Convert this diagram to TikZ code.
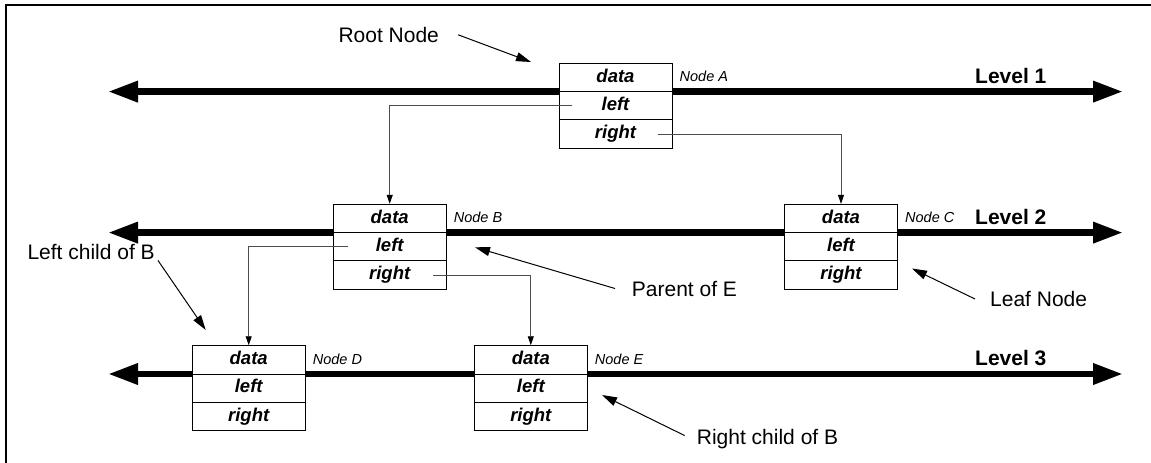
\documentclass[tikz,border=0pt]{standalone}
\usepackage{fontspec}
\setmainfont{Liberation Sans}
\usetikzlibrary{arrows.meta,calc}
\newcommand\llbox[3]{%
  \node[cell] (#1d) at (#2,#3+14.15) {data};
  \node[cell] (#1l) at (#2,#3+42.45) {left};
  \node[cell] (#1r) at (#2,#3+70.75) {right};}
\begin{document}
\begin{tikzpicture}[x=1pt,y=-1pt,
  cell/.style={draw=black, line width=0.9pt, fill=white, minimum width=113pt,
    minimum height=28.3pt, inner sep=0pt,
    font=\fontsize{18.5}{20}\selectfont\bfseries\itshape,
    text height=13.3pt, text depth=3.7pt},
  lvl/.style={line width=6.5pt,
    {Triangle[length=30pt,width=20pt]}-{Triangle[length=30pt,width=20pt]}},
  conn/.style={draw=black!70, line width=0.9pt,
    -{Triangle[length=9pt,width=6pt,color=black]}},
  ann/.style={draw=black, line width=1pt, -{Triangle[length=15pt,width=9pt]}},
  anntext/.style={font=\fontsize{21}{25}\selectfont, inner sep=0pt, anchor=base west},
  lvltext/.style={font=\fontsize{21}{25}\selectfont\bfseries, inner sep=0pt, anchor=base west},
  nlab/.style={font=\fontsize{14.5}{16}\selectfont\itshape, inner sep=0pt, anchor=base west}]
\useasboundingbox (0,0) rectangle (1151,463);
\fill[white] (0,0) rectangle (1151,463);
\draw[line width=2.2pt] (6.2,5) rectangle (1200,520);

% level lines
\coordinate (L1a) at (108,91.6);  \coordinate (L1b) at (1123,91.6);
\coordinate (L2a) at (108,232.6); \coordinate (L2b) at (1123,232.6);
\coordinate (L3a) at (108,374);   \coordinate (L3b) at (1123,374);
\draw[lvl] (L1a) -- (L1b);
\draw[lvl] (L2a) -- (L2b);
\draw[lvl] (L3a) -- (L3b);
\node[lvltext] (lv1) at (975,83.3) {Level 1};
\node[lvltext] (lv2) at (975,224.3) {Level 2};
\node[lvltext] (lv3) at (975,365.6) {Level 3};

% boxes
\llbox{A}{615.5}{63.3}
\llbox{B}{389.7}{204.3}
\llbox{C}{841}{204.3}
\llbox{D}{248.7}{345.7}
\llbox{E}{530.8}{345.7}

\node[nlab] (Alab) at ($(Ad.base east)+(7,-0.6)$) {Node A};
\node[nlab] (Blab) at ($(Bd.base east)+(7,-0.6)$) {Node B};
\node[nlab] (Clab) at ($(Cd.base east)+(7,-0.6)$) {Node C};
\node[nlab] (Dlab) at ($(Dd.base east)+(7,-0.6)$) {Node D};
\node[nlab] (Elab) at ($(Ed.base east)+(7,-0.6)$) {Node E};

% child pointers
\draw[conn] ($(Al.west)+(13.7,0)$) -| (Bd.north);
\draw[conn] ($(Ar.east)+(-14,0)$) -| (Cd.north);
\draw[conn] ($(Bl.west)+(15,0)$) -| (Dd.north);
\draw[conn] ($(Br.east)+(-13.7,0)$) -| (Ed.north);

% annotations
\node[anntext] (root) at (338.3,42.3) {Root Node};
\coordinate (rootT) at (531,62);
\draw[ann] ($(root.east)+(19,0)$) -- (rootT);

\node[anntext] (par) at (631.7,296) {Parent of E};
\coordinate (parT) at (475,247.3);
\draw[ann] ($(par.west)+(-16.7,0)$) -- (parT);

\node[anntext] (leaf) at (990,306.5) {Leaf Node};
\coordinate (leafT) at (912,268.5);
\draw[ann] ($(leaf.west)+(-15,0)$) -- (leafT);

\node[anntext] (rc) at (696.7,444) {Right child of B};
\coordinate (rcT) at (602,395);
\draw[ann] ($(rc.west)+(-12,-3)$) -- (rcT);

\node[anntext] (lc) at (27.3,259) {Left child of B};
\coordinate (lcT) at (205.7,330);
\draw[ann] ($(lc.south east)+(3,1)$) -- (lcT);
\end{tikzpicture}
\end{document}
